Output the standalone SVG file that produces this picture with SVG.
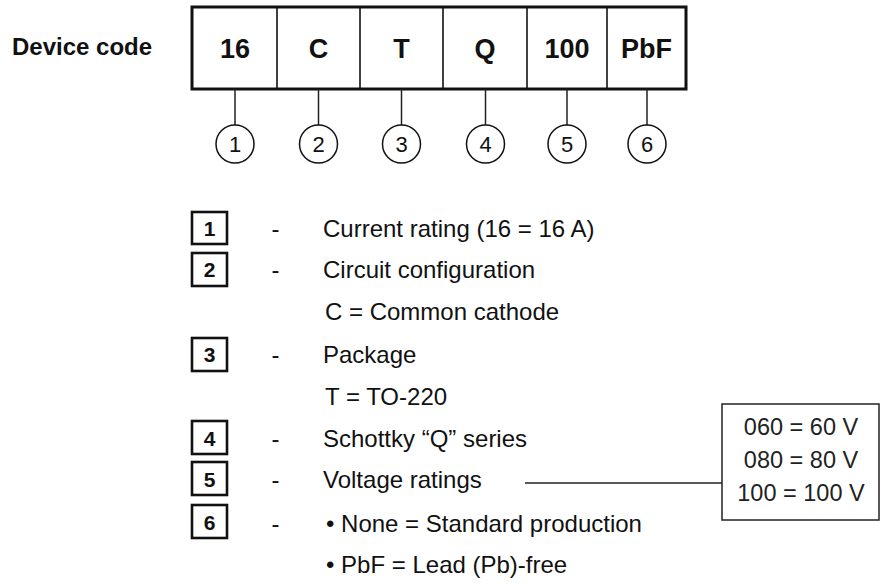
<svg xmlns="http://www.w3.org/2000/svg" width="881" height="587" viewBox="0 0 881 587">
<style>
text{font-family:"Liberation Sans",Arial,sans-serif;fill:#111}
.b{font-weight:bold}
.code{font-size:27px;font-weight:bold;text-anchor:middle}
.num{font-size:22px;text-anchor:middle}
.key{font-size:21px;font-weight:bold;text-anchor:middle}
.lbl{font-size:24px}
.dash{font-size:24px;text-anchor:middle}
.volt{font-size:23.5px;text-anchor:middle;fill:#222}
.cell{fill:none;stroke:#111;stroke-width:1.6}
.outer{fill:none;stroke:#111;stroke-width:3}
.kbox{fill:none;stroke:#111;stroke-width:2.6}
.circ{fill:#fff;stroke:#111;stroke-width:1.5}
.conn{stroke:#222;stroke-width:1.5;fill:none}
</style>
<text class="b" x="12" y="55" font-size="24">Device code</text>
<g id="code-box">
<rect class="outer" x="192" y="7" width="494" height="82"/>
</g>
<g id="cell-16"><line class="cell" x1="277" y1="7" x2="277" y2="89"/><text class="code" x="235" y="58">16</text></g>
<g id="cell-C"><line class="cell" x1="360" y1="7" x2="360" y2="89"/><text class="code" x="318.5" y="58">C</text></g>
<g id="cell-T"><line class="cell" x1="443" y1="7" x2="443" y2="89"/><text class="code" x="401.5" y="58">T</text></g>
<g id="cell-Q"><line class="cell" x1="527" y1="7" x2="527" y2="89"/><text class="code" x="485" y="58">Q</text></g>
<g id="cell-100"><line class="cell" x1="607" y1="7" x2="607" y2="89"/><text class="code" x="567" y="58">100</text></g>
<g id="cell-PbF"><text class="code" x="646.5" y="58">PbF</text></g>
<g id="connectors">
<line class="conn" x1="235" y1="89" x2="235" y2="125"/>
<line class="conn" x1="318.5" y1="89" x2="318.5" y2="125"/>
<line class="conn" x1="401.5" y1="89" x2="401.5" y2="125"/>
<line class="conn" x1="485.5" y1="89" x2="485.5" y2="125"/>
<line class="conn" x1="567" y1="89" x2="567" y2="125"/>
<line class="conn" x1="647" y1="89" x2="647" y2="125"/>
<line class="conn" x1="525" y1="483" x2="722" y2="483"/>
</g>
<g id="n1"><circle class="circ" cx="235" cy="144" r="19"/><text class="num" x="235" y="152">1</text></g>
<g id="n2"><circle class="circ" cx="318.5" cy="144" r="19"/><text class="num" x="318.5" y="152">2</text></g>
<g id="n3"><circle class="circ" cx="401.5" cy="144" r="19"/><text class="num" x="401.5" y="152">3</text></g>
<g id="n4"><circle class="circ" cx="485.5" cy="144" r="19"/><text class="num" x="485.5" y="152">4</text></g>
<g id="n5"><circle class="circ" cx="567" cy="144" r="19"/><text class="num" x="567" y="152">5</text></g>
<g id="n6"><circle class="circ" cx="647" cy="144" r="19"/><text class="num" x="647" y="152">6</text></g>
<g id="k1"><rect class="kbox" x="192" y="212" width="35" height="32"/><text class="key" x="209.5" y="236">1</text><text class="dash" x="275.5" y="237">-</text><text class="lbl" x="323" y="237">Current rating (16 = 16 A)</text></g>
<g id="k2"><rect class="kbox" x="192" y="253" width="35" height="33"/><text class="key" x="209.5" y="277">2</text><text class="dash" x="275.5" y="278">-</text><text class="lbl" x="323" y="278">Circuit configuration</text><text class="lbl" x="325" y="320">C = Common cathode</text></g>
<g id="k3"><rect class="kbox" x="192" y="338" width="35" height="33"/><text class="key" x="209.5" y="362">3</text><text class="dash" x="275.5" y="363">-</text><text class="lbl" x="323" y="363">Package</text><text class="lbl" x="325" y="405">T = TO-220</text></g>
<g id="k4"><rect class="kbox" x="192" y="421" width="35" height="33"/><text class="key" x="209.5" y="446">4</text><text class="dash" x="275.5" y="447">-</text><text class="lbl" x="323" y="447">Schottky “Q” series</text></g>
<g id="k5"><rect class="kbox" x="192" y="462" width="35" height="33"/><text class="key" x="209.5" y="487">5</text><text class="dash" x="275.5" y="488">-</text><text class="lbl" x="323" y="488">Voltage ratings</text></g>
<g id="k6"><rect class="kbox" x="192" y="505" width="35" height="33"/><text class="key" x="209.5" y="530">6</text><text class="dash" x="275.5" y="532">-</text><text class="lbl" x="326" y="532">• None = Standard production</text><text class="lbl" x="326" y="573">• PbF = Lead (Pb)-free</text></g>
<g id="voltage-box">
<rect x="722" y="404" width="157" height="116" fill="#fff" stroke="#222" stroke-width="1.5"/>
<text class="volt" x="801" y="435">060 = 60 V</text>
<text class="volt" x="801" y="468">080 = 80 V</text>
<text class="volt" x="801" y="501">100 = 100 V</text>
</g>
</svg>
